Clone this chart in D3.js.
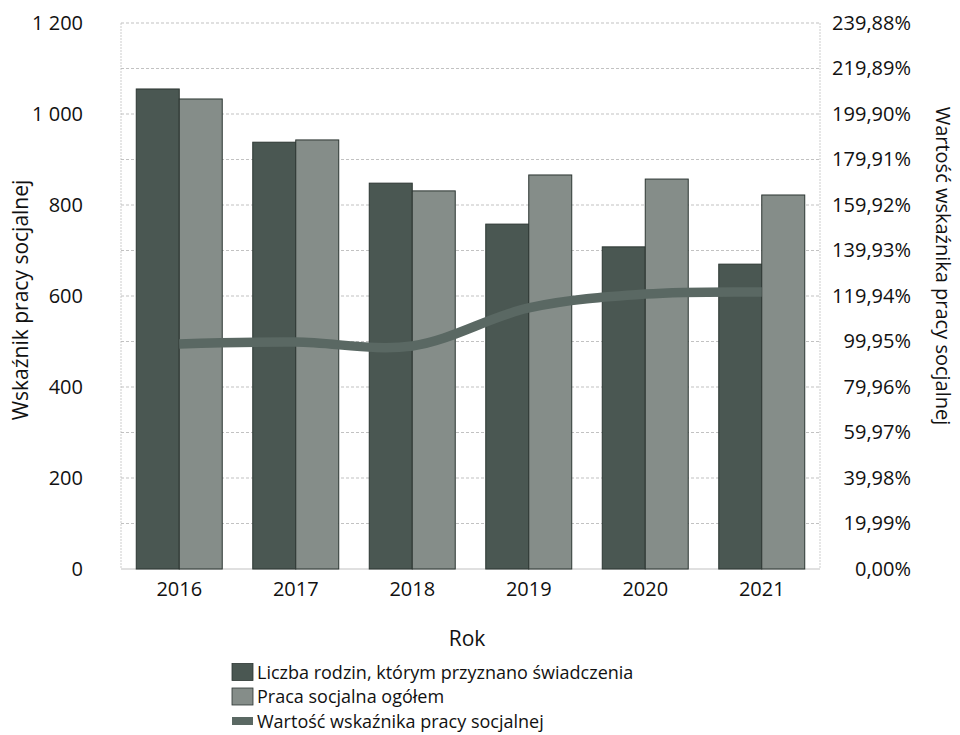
<!DOCTYPE html>
<html>
<head>
<meta charset="utf-8">
<script src="https://cdn.jsdelivr.net/npm/d3@7"></script>
<style>
  body { margin: 0; background: #fff; }
  text { font-family: "Open Sans", "DejaVu Sans", sans-serif; fill: #111; }
</style>
</head>
<body>
<svg id="chart" width="960" height="735"></svg>
<script>
const years = ["2016", "2017", "2018", "2019", "2020", "2021"];
const liczbaRodzin = [1055, 938, 848, 758, 708, 670];
const pracaSocjalna = [1033, 943, 831, 866, 857, 822];
const wskaznik = [98.9, 99.7, 98.0, 114.7, 120.8, 121.7];
const leftTicks = [0, 200, 400, 600, 800, 1000, 1200];
const leftLabels = ["0", "200", "400", "600", "800", "1 000", "1 200"];
const rightTickLabels = ["0,00%", "19,99%", "39,98%", "59,97%", "79,96%", "99,95%", "119,94%",
  "139,93%", "159,92%", "179,91%", "199,90%", "219,89%", "239,88%"];
const rightTickValues = [0, 19.99, 39.98, 59.97, 79.96, 99.95, 119.94, 139.93, 159.92, 179.91, 199.90, 219.89, 239.88];
const seriesNames = ["Liczba rodzin, którym przyznano świadczenia", "Praca socjalna ogółem", "Wartość wskaźnika pracy socjalnej"];

const svg = d3.select("#chart");
const m = { left: 121, right: 820, top: 23, bottom: 569 };
const colDark = "#4a5752", colLight = "#858d89", colLine = "#5a6863";
const FS = "20px";

const x = d3.scaleBand().domain(years).range([m.left, m.right]).paddingInner(0).paddingOuter(0);
const y = d3.scaleLinear().domain([0, 1200]).range([m.bottom, m.top]);
const yR = d3.scaleLinear().domain([0, 239.88]).range([m.bottom, m.top]);

// gridlines every 100
const grid = svg.append("g");
grid.selectAll("line").data(d3.range(100, 1201, 100)).join("line")
  .attr("x1", m.left).attr("x2", m.right)
  .attr("y1", d => y(d)).attr("y2", d => y(d))
  .attr("stroke", "#a8a8a8").attr("stroke-width", 0.7).attr("stroke-dasharray", "3,2");
// frame sides
[m.left, m.right].forEach(px => {
  svg.append("line").attr("x1", px).attr("x2", px).attr("y1", m.top).attr("y2", m.bottom)
    .attr("stroke", "#b8b8b8").attr("stroke-width", 0.7).attr("stroke-dasharray", "2,1");
});
svg.append("line").attr("x1", m.left).attr("x2", m.right).attr("y1", m.bottom).attr("y2", m.bottom)
  .attr("stroke", "#a8a8a8").attr("stroke-width", 0.7);

// bars
const xSub = d3.scaleBand().domain([0, 1]).range([0, x.bandwidth()]).paddingOuter(0.355).paddingInner(0);
const barData = [];
years.forEach((yr, i) => {
  barData.push({ yr, s: 0, v: liczbaRodzin[i] });
  barData.push({ yr, s: 1, v: pracaSocjalna[i] });
});
svg.append("g").selectAll("rect").data(barData).join("rect")
  .attr("x", d => x(d.yr) + xSub(d.s))
  .attr("width", xSub.bandwidth())
  .attr("y", d => y(d.v))
  .attr("height", d => y(0) - y(d.v))
  .attr("fill", d => d.s === 0 ? colDark : colLight)
  .attr("stroke", "#2c3632").attr("stroke-width", 1);

// line
const line = d3.line()
  .x((d, i) => x(years[i]) + x.bandwidth() / 2)
  .y(d => yR(d))
  .curve(d3.curveCatmullRom.alpha(0.5));
svg.append("path").datum(wskaznik).attr("d", line)
  .attr("fill", "none").attr("stroke", colLine).attr("stroke-width", 9.5);

// left axis labels
const gL = svg.append("g").attr("transform", `translate(${m.left},0)`)
  .call(d3.axisLeft(y).tickValues(leftTicks).tickFormat((d, i) => leftLabels[i]).tickSize(0).tickPadding(38));
gL.select(".domain").remove();
gL.selectAll("text").style("font-size", FS).attr("fill", "#111");

// right axis labels (right-aligned)
const gR = svg.append("g").attr("transform", `translate(${m.right},0)`)
  .call(d3.axisRight(yR).tickValues(rightTickValues).tickFormat((d, i) => rightTickLabels[i]).tickSize(0).tickPadding(91));
gR.select(".domain").remove();
gR.selectAll("text").style("font-size", FS).attr("fill", "#111").attr("text-anchor", "end");

// x axis labels
const gX = svg.append("g").attr("transform", `translate(0,${m.bottom})`)
  .call(d3.axisBottom(x).tickSize(0).tickPadding(13));
gX.select(".domain").remove();
gX.selectAll("text").style("font-size", FS).attr("fill", "#111");

// titles
svg.append("text").attr("x", 467).attr("y", 646).attr("text-anchor", "middle")
  .style("font-size", "21px").text("Rok");
svg.append("text").attr("transform", `translate(28,${(m.top + m.bottom) / 2 + 4}) rotate(-90)`).attr("text-anchor", "middle")
  .style("font-size", "21px").text("Wskaźnik pracy socjalnej");
svg.append("text").attr("transform", "translate(936,266) rotate(90)").attr("text-anchor", "middle")
  .style("font-size", "20px").text("Wartość wskaźnika pracy socjalnej");

// legend
const leg = svg.append("g");
const rowsY = [672, 696.5, 721];
seriesNames.forEach((name, i) => {
  if (i < 2) {
    leg.append("rect").attr("x", 232).attr("y", rowsY[i] - 8.5).attr("width", 21).attr("height", 17)
      .attr("fill", i === 0 ? colDark : colLight).attr("stroke", "#2c3632").attr("stroke-width", 0.8);
  } else {
    leg.append("rect").attr("x", 232).attr("y", rowsY[i] - 4).attr("width", 21).attr("height", 8)
      .attr("fill", colLine);
  }
  leg.append("text").attr("x", 257).attr("y", rowsY[i] + 6.5)
    .style("font-size", "18px").text(name);
});
</script>
</body>
</html>
